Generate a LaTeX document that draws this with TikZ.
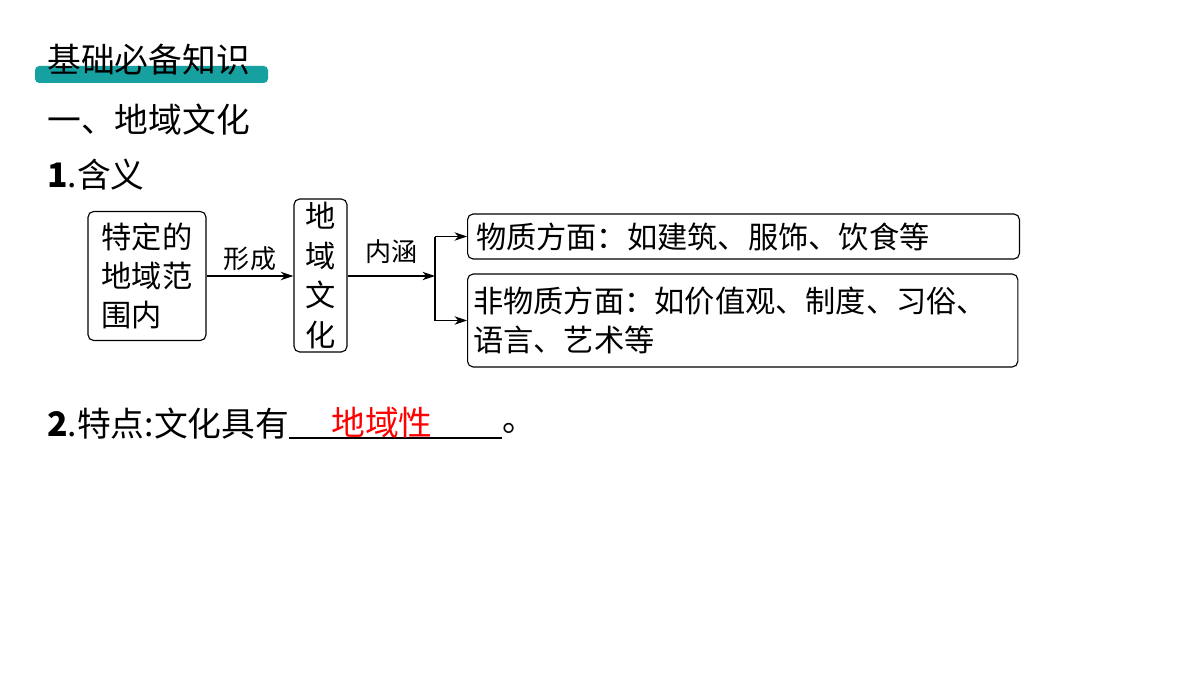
\documentclass[tikz,border=0pt]{standalone}
\usepackage{fontspec}
\setmainfont{Liberation Serif}
\newfontfamily\cjk{Noto Sans CJK SC}
\usetikzlibrary{positioning,arrows.meta}
\definecolor{barteal}{RGB}{22,160,160}
\tikzset{
  box/.style = {draw, rounded corners=4pt, line width=0.8pt, align=left, font=\cjk\fontsize{21.5}{28}\selectfont},
  lab/.style = {font=\cjk\fontsize{18.5}{20}\selectfont},
  big/.style = {font=\cjk\fontsize{24}{28}\selectfont},
  arr/.style = {-{Stealth[length=9pt,width=6pt]}, line width=0.8pt}
}
\begin{document}
\begin{tikzpicture}[x=0.025cm, y=-0.025cm]
            \useasboundingbox (0,0) rectangle (1200,675);
            % heading bar
            \fill [barteal, rounded corners=3pt] (35,66) rectangle (268,83);
            \node [anchor=west, big, inner sep=0pt] (head) at (47,60) {基础必备知识};
            \node [anchor=west, big, inner sep=0pt] (sec) at (47,120) {一、地域文化};
            \node [anchor=west, big, inner sep=0pt] (mean) at (47,175) {\textbf{1}.含义};
            
            \node [box, minimum width=118*0.025cm, minimum height=129*0.025cm, inner sep=1pt] (scope) at (147,276) {特定的\\地域范\\围内};
            \node [box, minimum width=53*0.025cm, minimum height=153*0.025cm, inner sep=1pt, align=center] (cult) at (320.5,275.5) {地\\域\\文\\化};
            \node [box, anchor=west, text width=535*0.025cm, minimum height=43*0.025cm, inner sep=6pt] (mat) at (467,236.5) {物质方面：如建筑、服饰、饮食等};
            \node [box, anchor=west, text width=539*0.025cm, minimum height=93*0.025cm, inner sep=4pt] (nonmat) at (467,320.5) {非物质方面：如价值观、制度、习俗、\\语言、艺术等};
            \coordinate (fork) at (435,276);
            
            \draw [arr] (scope.east |- 0,276) -- node[above, lab]{形成} (cult.west |- 0,276);
            \draw [arr] (cult.east |- 0,276) -- node[above, lab, yshift=5pt]{内涵} (fork);
            \draw [line width=0.8pt] (fork |- mat.west) -- (fork |- nonmat.west);
            \draw [arr] (fork |- mat.west) -- (mat.west);
            \draw [arr] (fork |- nonmat.west) -- (nonmat.west);
            
            \node [anchor=west, big, inner sep=0pt] (feat) at (47,424) {\textbf{2}.特点:文化具有};
            \draw [line width=0.8pt] (feat.east |- 0,438) -- (502,438);
            \node [big, text=red] (ans) at (382,423) {地域性};
            \node [anchor=west, big, inner sep=0pt] (dot) at (502,428) {。};
        \end{tikzpicture}
\end{document}
